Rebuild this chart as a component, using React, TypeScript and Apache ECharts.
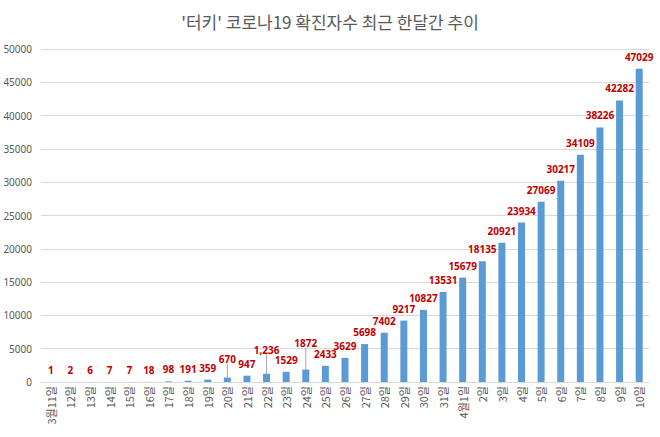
import React, { useEffect, useRef } from "react";
import * as echarts from "echarts";

const categories = [
  "3월11일", "12일", "13일", "14일", "15일", "16일", "17일", "18일", "19일", "20일",
  "21일", "22일", "23일", "24일", "25일", "26일", "27일", "28일", "29일", "30일",
  "31일", "4월1일", "2일", "3일", "4일", "5일", "6일", "7일", "8일", "9일", "10일",
];

const values = [
  1, 2, 6, 7, 7, 18, 98, 191, 359, 670,
  947, 1236, 1529, 1872, 2433, 3629, 5698, 7402, 9217, 10827,
  13531, 15679, 18135, 20921, 23934, 27069, 30217, 34109, 38226, 42282,
  47029,
];

const yTicks = [0, 5000, 10000, 15000, 20000, 25000, 30000, 35000, 40000, 45000, 50000];

const labelLift: Record<number, number> = { 9: -7, 11: -12, 13: -15 };
const labelText: Record<number, string> = { 11: "1,236" };

export default function App() {
  const ref = useRef<HTMLDivElement>(null);
  useEffect(() => {
    if (!ref.current) return;
    const chart = echarts.init(ref.current, undefined, { renderer: "svg" });
    chart.setOption({
      animation: false,
      title: {
        text: "'터키' 코로나19 확진자수 최근 한달간 추이",
        left: "center",
        top: 8,
        textStyle: {
          fontFamily: "Noto Sans CJK KR",
          fontSize: 17,
          fontWeight: "normal",
          color: "#595959",
        },
      },
      grid: { left: 41, right: 11, top: 49, bottom: 55 },
      xAxis: {
        type: "category",
        data: categories,
        axisLine: { lineStyle: { color: "#d9d9d9" } },
        axisTick: { show: false },
        axisLabel: {
          rotate: 90,
          interval: 0,
          fontSize: 11,
          color: "#595959",
          fontFamily: "Noto Sans CJK KR",
          margin: 4,
        },
      },
      yAxis: {
        type: "value",
        min: yTicks[0],
        max: yTicks[yTicks.length - 1],
        interval: 5000,
        axisLine: { show: false },
        axisTick: { show: false },
        splitLine: { lineStyle: { color: "#d9d9d9" } },
        axisLabel: {
          fontSize: 10,
          color: "#595959",
          fontFamily: "Noto Sans",
          margin: 9,
          formatter: (v: number) => String(v),
        },
      },
      series: [
        {
          type: "bar",
          barWidth: 7,
          itemStyle: { color: "#5b9bd5" },
          data: values.map((v, i) => {
            const item: any = { value: v };
            if (labelText[i]) item.label = { formatter: labelText[i] };
            if (labelLift[i]) item.labelLine = { show: true };
            return item;
          }),
          label: {
            show: true,
            position: "top",
            distance: 7,
            color: "#c00000",
            fontWeight: "bold",
            fontSize: 10,
            fontFamily: "Noto Sans",
          },
          labelLine: { show: false, lineStyle: { color: "#a6a6a6", width: 1 } },
          labelLayout: (params: any) => {
            const dy = labelLift[params.dataIndex];
            return dy ? { dy } : {};
          },
        },
      ],
    });
    return () => chart.dispose();
  }, []);
  return (
    <div
      ref={ref}
      style={{ position: "absolute", left: 0, top: 0, width: 660, height: 437 }}
    />
  );
}
